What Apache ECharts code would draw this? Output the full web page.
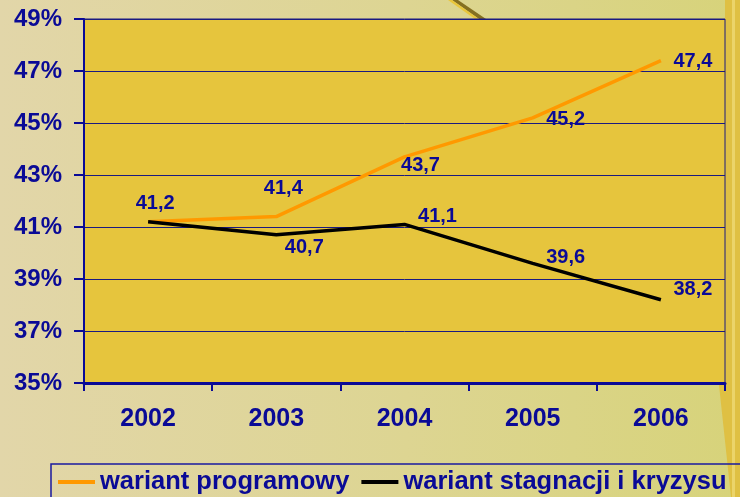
<!DOCTYPE html>
<html>
<head>
<meta charset="utf-8">
<script src="https://cdn.jsdelivr.net/npm/echarts@6/dist/echarts.min.js"></script>
<style>
html,body{margin:0;padding:0;}
#main{width:740px;height:497px;}
</style>
</head>
<body>
<div id="main"></div>
<script>
var years=['2002','2003','2004','2005','2006'];
var programowy=[41.2,41.4,43.7,45.2,47.4];
var stagnacji=[41.2,40.7,41.1,39.6,38.2];
var seriesNames=['wariant programowy','wariant stagnacji i kryzysu'];

// przesuniecia etykiet (px) wzgledem punktu
var offProg=[[7,-18],[7,-28],[16,9],[33,2],[32,1]];
var offStag=[null,[28,13],[33,-8],[33,-6],[32,-10]];

var blue='#0A0A96';

function buildData(vals,offs){
    var out=[];
    for(var i=0;i<vals.length;i++){
        var item={value:vals[i]};
        if(offs[i]){
            item.label={show:true,position:'inside',offset:offs[i]};
        }else{
            item.label={show:false};
        }
        out.push(item);
    }
    return out;
}

var labelStyle={
    color:blue,
    fontFamily:'Liberation Sans, Arial, sans-serif',
    fontWeight:'bold',
    fontSize:20,
    formatter:function(p){return String(p.value).replace('.',',');}
};

var myChart=echarts.init(document.getElementById('main'));
myChart.setOption({
    animation:false,
    backgroundColor:{
        type:'linear',x:0,y:0,x2:1,y2:0,
        colorStops:[
            {offset:0,color:'#E2D6A9'},
            {offset:0.55,color:'#DDD592'},
            {offset:1,color:'#D7D37A'}
        ]
    },
    graphic:[
        {type:'polygon',silent:true,z:-1,
         shape:{points:[[725,0],[740,0],[740,497],[731,497],[719,385],[725,383]]},
         style:{fill:'#DFC043'}},
        {type:'polygon',silent:true,z:-1,
         shape:{points:[[732,0],[735,0],[735,497],[732,497]]},
         style:{fill:'#EBD46A'}},
        {type:'polygon',silent:true,z:-1,
         shape:{points:[[452,0],[458,0],[486,19],[479,19]]},
         style:{fill:'#857020'}},
        {type:'polygon',silent:true,z:-1,
         shape:{points:[[448,0],[452,0],[479,19],[475,19]]},
         style:{fill:'#E9C63A'}},
        {type:'rect',silent:true,
         shape:{x:51,y:464,width:720,height:60},
         style:{fill:'none',stroke:'#1A1AA0',lineWidth:1.5}}
    ],
    grid:{
        left:84,right:15,top:19,bottom:114,
        show:true,backgroundColor:'#E6C53D',
        borderColor:'#1A1A80',borderWidth:1
    },
    legend:{
        left:58,top:469,padding:0,
        itemWidth:37,itemHeight:4,itemGap:12,
        icon:'rect',
        textStyle:{color:blue,fontFamily:'Liberation Sans, Arial, sans-serif',fontWeight:'bold',fontSize:25.5},
        data:[
            {name:seriesNames[0],itemStyle:{color:'#FF9900'}},
            {name:seriesNames[1],itemStyle:{color:'#000000'}}
        ]
    },
    xAxis:{
        type:'category',
        data:years,
        boundaryGap:true,
        axisLine:{lineStyle:{color:blue,width:3}},
        axisTick:{show:true,length:8,lineStyle:{color:blue,width:2}},
        axisLabel:{color:blue,fontFamily:'Liberation Sans, Arial, sans-serif',fontWeight:'bold',fontSize:25,margin:24},
        splitLine:{show:false}
    },
    yAxis:{
        type:'value',
        min:35,max:49,interval:2,
        axisLine:{show:true,lineStyle:{color:blue,width:2}},
        axisTick:{show:true,length:10,lineStyle:{color:blue,width:2}},
        axisLabel:{color:blue,fontFamily:'Liberation Sans, Arial, sans-serif',fontWeight:'bold',fontSize:24,margin:22,
            formatter:function(v){return v+'%';}},
        splitLine:{show:true,lineStyle:{color:'#1A1A80',width:1}}
    },
    series:[
        {
            name:seriesNames[0],type:'line',
            data:buildData(programowy,offProg),
            symbol:'circle',symbolSize:0.01,
            itemStyle:{color:'#FF9900'},
            lineStyle:{color:'#FF9900',width:3.5},
            label:labelStyle,
            z:3
        },
        {
            name:seriesNames[1],type:'line',
            data:buildData(stagnacji,offStag),
            symbol:'circle',symbolSize:0.01,
            itemStyle:{color:'#000000'},
            lineStyle:{color:'#000000',width:3.5},
            label:labelStyle,
            z:4
        }
    ]
});
</script>
</body>
</html>
